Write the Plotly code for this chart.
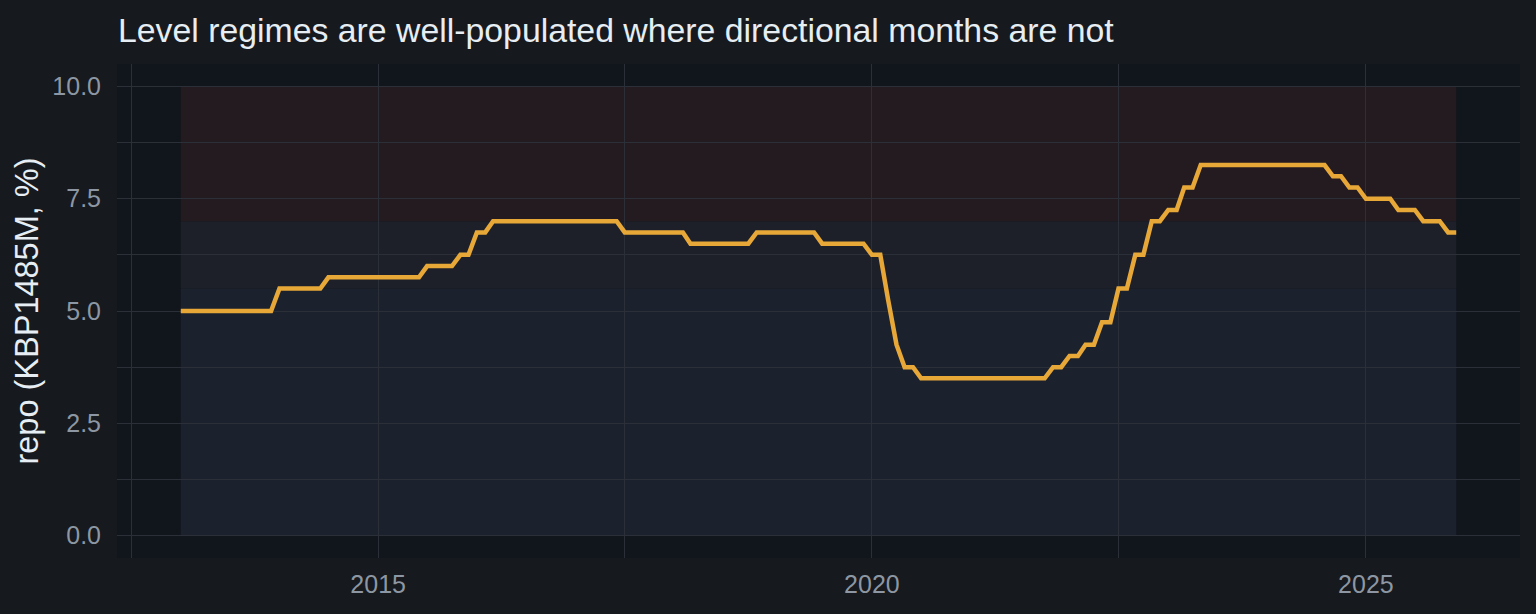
import pandas as pd
import plotly.graph_objects as go

# ---------------- data ----------------
months = pd.date_range("2013-01-01", "2025-12-01", freq="MS")

repo_2013 = [5.0, 5.0, 5.0, 5.0, 5.0, 5.0, 5.0, 5.0, 5.0, 5.0, 5.0, 5.0]
repo_2014 = [5.5, 5.5, 5.5, 5.5, 5.5, 5.5, 5.75, 5.75, 5.75, 5.75, 5.75, 5.75]
repo_2015 = [5.75, 5.75, 5.75, 5.75, 5.75, 5.75, 6.0, 6.0, 6.0, 6.0, 6.25, 6.25]
repo_2016 = [6.75, 6.75, 7.0, 7.0, 7.0, 7.0, 7.0, 7.0, 7.0, 7.0, 7.0, 7.0]
repo_2017 = [7.0, 7.0, 7.0, 7.0, 7.0, 7.0, 6.75, 6.75, 6.75, 6.75, 6.75, 6.75]
repo_2018 = [6.75, 6.75, 6.5, 6.5, 6.5, 6.5, 6.5, 6.5, 6.5, 6.5, 6.75, 6.75]
repo_2019 = [6.75, 6.75, 6.75, 6.75, 6.75, 6.75, 6.5, 6.5, 6.5, 6.5, 6.5, 6.5]
repo_2020 = [6.25, 6.25, 5.25, 4.25, 3.75, 3.75, 3.5, 3.5, 3.5, 3.5, 3.5, 3.5]
repo_2021 = [3.5, 3.5, 3.5, 3.5, 3.5, 3.5, 3.5, 3.5, 3.5, 3.5, 3.75, 3.75]
repo_2022 = [4.0, 4.0, 4.25, 4.25, 4.75, 4.75, 5.5, 5.5, 6.25, 6.25, 7.0, 7.0]
repo_2023 = [7.25, 7.25, 7.75, 7.75, 8.25, 8.25, 8.25, 8.25, 8.25, 8.25, 8.25, 8.25]
repo_2024 = [8.25, 8.25, 8.25, 8.25, 8.25, 8.25, 8.25, 8.25, 8.0, 8.0, 7.75, 7.75]
repo_2025 = [7.5, 7.5, 7.5, 7.5, 7.25, 7.25, 7.25, 7.0, 7.0, 7.0, 6.75, 6.75]

repo = (repo_2013 + repo_2014 + repo_2015 + repo_2016 + repo_2017 + repo_2018 +
        repo_2019 + repo_2020 + repo_2021 + repo_2022 + repo_2023 + repo_2024 + repo_2025)

# level regime bands (lower, upper)
band_lows = [0.0, 5.5, 7.0]
band_highs = [5.5, 7.0, 10.0]
band_colors = ["#1b222e", "#1d2029", "#241b21"]

y_tickvals = [0.0, 2.5, 5.0, 7.5, 10.0]
y_ticktext = ["0.0", "2.5", "5.0", "7.5", "10.0"]

title_text = "Level regimes are well-populated where directional months are not"
y_title = "repo (KBP1485M, %)"

# ---------------- styling ----------------
PAGE_BG = "#16191e"
PANEL_BG = "#11151c"
GRID = "#2b3038"
LINE = "#e8a838"
TICK = "#8d97a3"
TEXT = "#e6edf3"
FONT = "Liberation Sans, Arial, sans-serif"

x_start, x_end = months[0], months[-1]
span = x_end - x_start
x_range = [x_start - span * 0.05, x_end + span * 0.05]
y_lo, y_hi = min(band_lows), max(band_highs)
y_pad = (y_hi - y_lo) * 0.05
y_range = [y_lo - y_pad, y_hi + y_pad]

fig = go.Figure()
fig.add_trace(go.Scatter(
    x=months, y=repo, mode="lines",
    line=dict(color=LINE, width=4.5),
    hoverinfo="x+y", showlegend=False,
))

for lo, hi, c in zip(band_lows, band_highs, band_colors):
    fig.add_shape(type="rect", xref="x", yref="y",
                  x0=x_start, x1=x_end, y0=lo, y1=hi,
                  fillcolor=c, line=dict(width=0), layer="below")

fig.update_layout(
    width=1536, height=614,
    paper_bgcolor=PAGE_BG, plot_bgcolor=PANEL_BG,
    margin=dict(l=117, r=16, t=64, b=56),
    font=dict(family=FONT, color=TICK),
    title=dict(text=title_text, x=118 / 1536, xref="container", xanchor="left",
               y=1 - 30 / 614, yref="container", yanchor="middle",
               font=dict(size=33.8, color=TEXT, family=FONT)),
    showlegend=False,
)

fig.update_xaxes(
    range=x_range, type="date",
    tick0="2015-01-01", dtick="M60", tickformat="%Y",
    showgrid=True, gridcolor=GRID, gridwidth=1,
    minor=dict(dtick="M30", tick0="2015-01-01", showgrid=True, gridcolor=GRID, gridwidth=1),
    zeroline=False, showline=False, ticks="",
    tickfont=dict(size=25, color=TICK, family=FONT),
    ticklabelstandoff=9,
)
fig.update_yaxes(
    range=y_range,
    tickvals=y_tickvals, ticktext=y_ticktext,
    showgrid=True, gridcolor=GRID, gridwidth=1,
    minor=dict(dtick=1.25, tick0=0, showgrid=True, gridcolor=GRID, gridwidth=1),
    zeroline=False, showline=False, ticks="",
    tickfont=dict(size=25, color=TICK, family=FONT),
    ticklabelstandoff=15,
    title=dict(text=y_title, font=dict(size=32.5, color=TEXT, family=FONT), standoff=3),
)

fig.write_html("out.html")
